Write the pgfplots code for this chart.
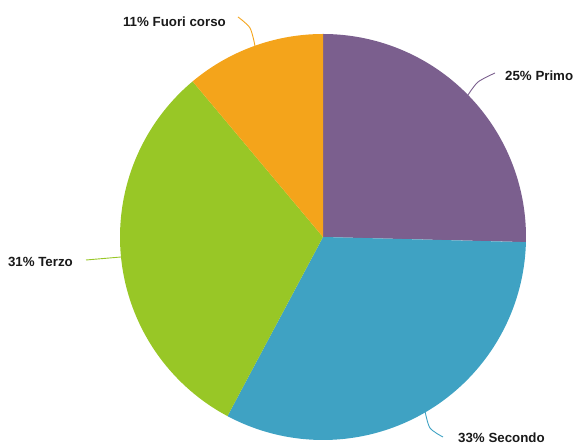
\documentclass[border=0pt]{standalone}
\usepackage{pgfplots}
\usepackage{pgfplotstable}
\pgfplotsset{compat=1.18}
\usepackage{fontspec}
\setmainfont{Liberation Sans}
\definecolor{cPrimo}{HTML}{7B5F8E}
\definecolor{cSecondo}{HTML}{3FA2C3}
\definecolor{cTerzo}{HTML}{98C726}
\definecolor{cFuori}{HTML}{F4A41B}
\pgfplotstableread{
label value
Primo 25.4
Secondo 32.4
Terzo 31.1
Fuori 11.1
}\piedata
\tikzset{lbl/.style={font=\fontsize{13.3}{16}\selectfont\bfseries, text=black!90, inner sep=0pt}}
\begin{document}
\begin{tikzpicture}
\pgfplotstablegetelem{0}{value}\of\piedata \let\vA\pgfplotsretval
\pgfplotstablegetelem{1}{value}\of\piedata \let\vB\pgfplotsretval
\pgfplotstablegetelem{2}{value}\of\piedata \let\vC\pgfplotsretval
\pgfplotstablegetelem{3}{value}\of\piedata \let\vD\pgfplotsretval
\pgfmathsetmacro\aA{90}
\pgfmathsetmacro\aB{\aA-3.6*\vA}
\pgfmathsetmacro\aC{\aB-3.6*\vB}
\pgfmathsetmacro\aD{\aC-3.6*\vC}
\pgfmathsetmacro\aE{\aD-3.6*\vD}
\def\R{203}
\useasboundingbox (0,0) rectangle (576pt,446pt);
\begin{axis}[
  at={(0,0)}, anchor=south west,
  scale only axis, width=576pt, height=446pt,
  xmin=-323, xmax=253, ymin=-209, ymax=237,
  hide axis, clip=false,
]
\addplot[fill=cPrimo, draw=none, domain=\aB:\aA, samples=90] ({\R*cos(x)},{\R*sin(x)}) -- (axis cs:0,0) -- cycle;
\addplot[fill=cSecondo, draw=none, domain=\aC:\aB, samples=90] ({\R*cos(x)},{\R*sin(x)}) -- (axis cs:0,0) -- cycle;
\addplot[fill=cTerzo, draw=none, domain=\aD:\aC, samples=90] ({\R*cos(x)},{\R*sin(x)}) -- (axis cs:0,0) -- cycle;
\addplot[fill=cFuori, draw=none, domain=\aE:\aD, samples=90] ({\R*cos(x)},{\R*sin(x)}) -- (axis cs:0,0) -- cycle;
% leader lines
\addplot[cPrimo, line width=0.9pt, smooth, no marks] coordinates {(145,142) (155,155) (172,164)};
\addplot[cSecondo, line width=0.9pt, smooth, no marks] coordinates {(102,-174) (107,-191) (120,-200)};
\addplot[cTerzo, line width=0.9pt, no marks] coordinates {(-202,-20) (-237,-23)};
\addplot[cFuori, line width=0.9pt, smooth, no marks] coordinates {(-68,191) (-73,209) (-85,220)};
\node[lbl, anchor=west] at (axis cs:182,161) {25\% Primo};
\node[lbl, anchor=west] at (axis cs:135,-201) {33\% Secondo};
\node[lbl, anchor=east] at (axis cs:-250,-25) {31\% Terzo};
\node[lbl, anchor=east] at (axis cs:-97,215) {11\% Fuori corso};
\end{axis}
\end{tikzpicture}
\end{document}
